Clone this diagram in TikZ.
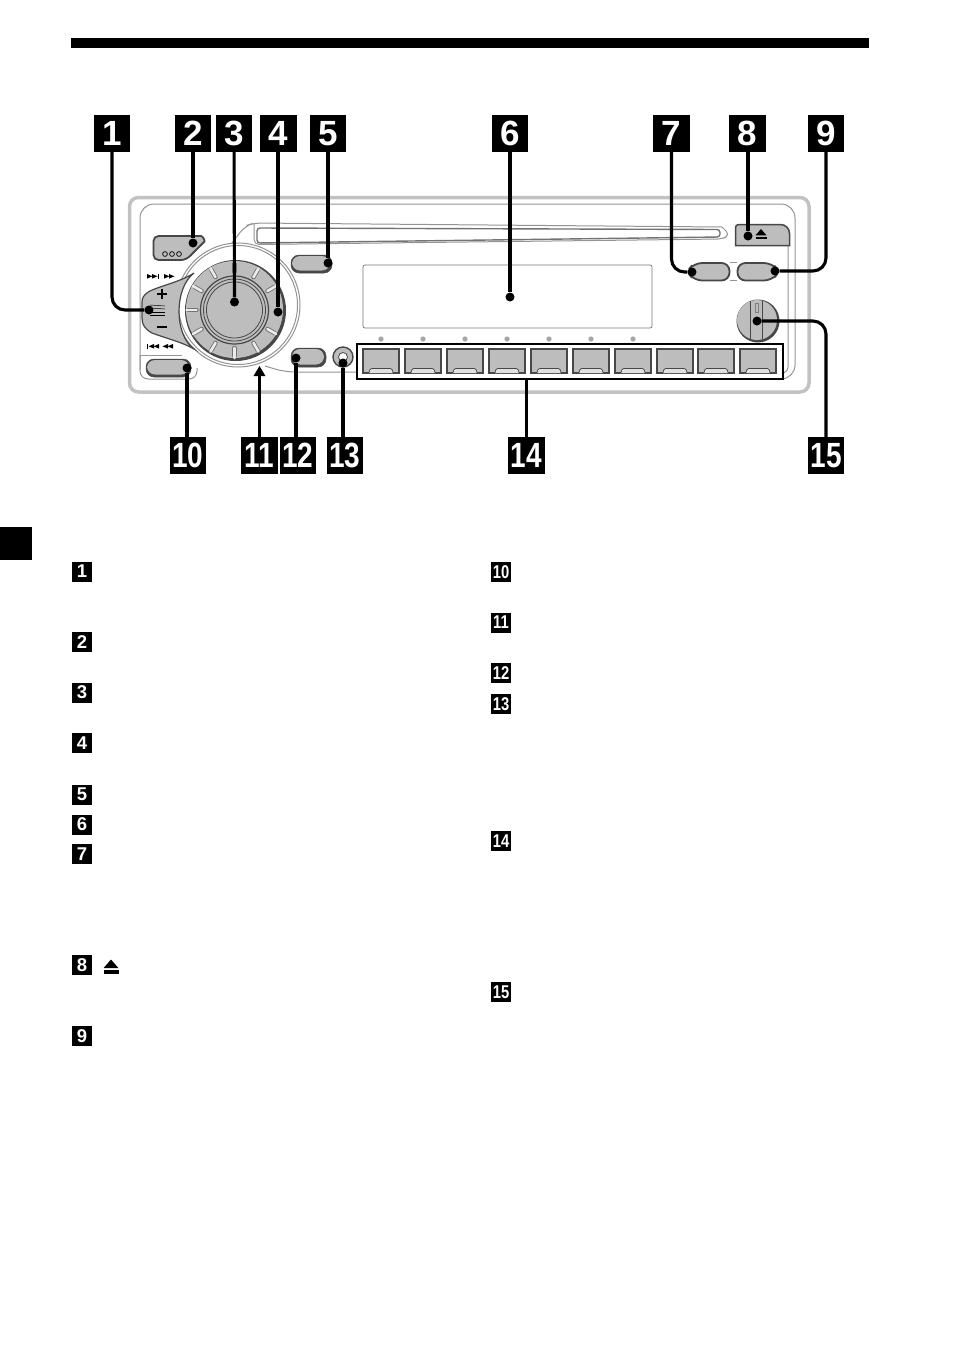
\documentclass[tikz,border=0pt]{standalone}
\usepackage{fontspec}
\setmainfont{Liberation Sans}
\usetikzlibrary{calc}
\definecolor{keygray}{gray}{0.74}
\definecolor{keydark}{gray}{0.28}
\tikzset{
	bigtag/.style={fill=black, text=white, inner sep=0pt, minimum size=36.5pt, font=\fontsize{35}{35}\selectfont\bfseries},
	smalltag/.style={fill=black, text=white, inner sep=0pt, minimum size=20pt, font=\fontsize{18.5}{19}\selectfont\bfseries},
	calldot/.style={circle, fill=black, inner sep=0pt, minimum size=9pt},
	callline/.style={line width=3.1pt, color=black, rounded corners=13pt},
	thinline/.style={line width=1pt, color=black!42},
	ledmark/.style={fill=black!35, draw=none},
}
\def\keycap(#1,#2)(#3,#4)(#5){\draw[fill=keydark, draw=keydark, line width=0.5pt, rounded corners=#5pt] (#1,#2) rectangle (#3,#4); \draw[fill=keygray, draw=none, rounded corners=#5pt] ($(#1,#2)+(1,1)$) rectangle ($(#3,#4)+(-2,-2.5)$);}
\def\presetkey(#1){\draw[fill=keygray, draw=keydark, line width=1.5pt] (#1,349) rectangle ++(36,24); \draw[fill=black!12, draw=keydark, line width=0.7pt, rounded corners=1.5pt] ($(#1,373)+(6,0)$) -- ++(1,-4.5) -- ++(22,0) -- ++(1,4.5);}
\def\knobtick(#1){\draw[line width=4.4pt, color=black!55, line cap=round] ([shift={(#1:38)}]knobc) -- ([shift={(#1:46)}]knobc); \draw[line width=2.6pt, color=black!8, line cap=round] ([shift={(#1:38)}]knobc) -- ([shift={(#1:48)}]knobc);}
\def\ejecticon(#1,#2)(#3){\fill (#1,#2) -- ++(#3,#3*1.15) -- ++(-#3*2,0) -- cycle; \fill ($(#1,#2)+(-#3,#3*1.45)$) rectangle ++(#3*2,#3*0.45);}
\def\trifwd(#1,#2){\fill (#1,#2) -- ++(5.5,2.3) -- ++(-5.5,2.3) -- cycle;}
\def\tribck(#1,#2){\fill (#1,#2) -- ++(-5.5,2.3) -- ++(5.5,2.3) -- cycle;}

\begin{document}
\begin{tikzpicture}[x=1pt, y=-1pt]
		%%%%% START %%%%%
		\useasboundingbox (0, 0) rectangle (954, 1352);

		\fill[black] (71, 38) rectangle (869, 48);
		\fill[black] (0, 527) rectangle (32, 560);

		%%%%% faceplate
		\draw[line width=3.5pt, color=black!24, rounded corners=9pt] (129.5, 197.5) rectangle (809, 392);
		\draw[thinline, rounded corners=14pt] (140, 370) -- (140, 204) -- (795, 204) -- (795, 379) -- (770, 379);
		\draw[thinline, rounded corners=8pt] (140, 355) -- (140, 379) -- (197, 379) -- (197, 368);
		\draw[thinline] (140, 355) -- (182, 355);
		\draw[thinline, rounded corners=6pt] (788, 246) -- (788, 373) -- (783, 373);
		\draw[thinline, rounded corners=10pt] (265, 366) -- (285, 372) -- (357, 372);

		%%%%% disc slot
		\draw[thinline, rounded corners=8pt] (232, 243) -- (245, 226) -- (254, 223) -- (722, 227);
		\draw[line width=1.4pt, color=black!55, rounded corners=3pt] (257, 228) -- (720, 229.5) -- (720, 237) -- (257, 243) -- cycle;
		\draw[thinline, rounded corners=5pt] (254, 223) -- (254, 244.5) -- (722, 239) -- (730, 235) -- (722, 227);

		%%%%% display and lamps
		\draw[line width=0.7pt, color=black!55, rounded corners=2pt] (363, 265) rectangle (652, 328);
		\fill[ledmark] (381, 339) circle (2.6);
		\fill[ledmark] (423, 339) circle (2.6);
		\fill[ledmark] (465, 339) circle (2.6);
		\fill[ledmark] (507, 339) circle (2.6);
		\fill[ledmark] (549, 339) circle (2.6);
		\fill[ledmark] (591, 339) circle (2.6);
		\fill[ledmark] (633, 339) circle (2.6);

		%%%%% preset keys
		\presetkey(363);
		\presetkey(405);
		\presetkey(447);
		\presetkey(489);
		\presetkey(531);
		\presetkey(573);
		\presetkey(615);
		\presetkey(657);
		\presetkey(698);
		\presetkey(740);
		\draw[line width=2.4pt] (357, 344) rectangle (783, 379);

		%%%%% left keys
		\draw[fill=keygray, draw=keydark, line width=1.8pt, rounded corners=5pt] (153.5, 260) -- (153.5, 236) -- (196, 236) .. controls (203, 236) and (205, 241) .. (201, 245) -- (186, 260) -- cycle;
		\draw[line width=0.7pt] (165, 254) circle (2.4);
		\draw[line width=0.7pt] (172, 254) circle (2.4);
		\draw[line width=0.7pt] (179, 254) circle (2.4);
		\keycap(291, 255)(332, 273)(8);
		\keycap(146, 359)(191, 377)(8);
		\keycap(291, 348)(326, 367)(8);
		\draw[fill=keygray, draw=keydark, line width=1.4pt] (343, 357) circle (10);
		\draw[fill=white, draw=keydark, line width=0.8pt] (343, 357) circle (4.5);

		%%%%% seek rocker
		\draw[thinline] (238, 305) circle (62);
		\draw[thinline] (238, 305) circle (59.5);
		\fill[white] (238, 305) circle (58);
		\draw[fill=keygray, draw=keydark, line width=1.2pt] (194, 273) .. controls (180, 282) and (160, 286) .. (150, 291) .. controls (143, 295) and (142, 298) .. (142, 303) -- (142, 318) .. controls (142, 325) and (145, 329) .. (152, 333) .. controls (165, 338) and (182, 342) .. (194, 349) .. controls (174, 335) and (174, 288) .. (194, 273) -- cycle;
		\draw[line width=1.2pt] (157, 294) -- (167, 294);
		\draw[line width=1.2pt] (162, 289) -- (162, 299);
		\draw[line width=1.4pt] (157, 327) -- (167, 327);
		\draw[line width=0.5pt] (150, 305) -- (165, 306);
		\draw[line width=0.5pt] (150, 308) -- (165, 309);
		\draw[line width=0.5pt] (150, 312) -- (165, 312);
		\draw[line width=0.5pt] (150, 315) -- (165, 315);
		\trifwd(147, 274);
		\trifwd(152, 274);
		\fill (157.5, 274) rectangle ++(1.2, 4.6);
		\trifwd(164, 274);
		\trifwd(169, 274);
		\fill (147, 344) rectangle ++(1.2, 4.6);
		\tribck(154, 344);
		\tribck(159, 344);
		\tribck(168, 344);
		\tribck(173, 344);

		%%%%% main dial
		\coordinate (knobc) at (234.5, 310);
		\fill[keydark] (235.5, 310.5) circle (50.5);
		\fill[keygray] (234.5, 309.5) circle (48.5);
		\knobtick(30);
		\knobtick(60);
		\knobtick(90);
		\knobtick(120);
		\knobtick(150);
		\knobtick(180);
		\knobtick(210);
		\knobtick(240);
		\knobtick(270);
		\knobtick(300);
		\knobtick(330);
		\draw[fill=keygray, draw=keydark, line width=1.2pt] (knobc) circle (34);
		\draw[line width=0.8pt, color=keydark] (knobc) circle (31);
		\draw[fill=keygray, draw=keydark, line width=0.8pt] (knobc) circle (28);

		%%%%% right keys
		\draw[fill=keygray, draw=keydark, line width=1.5pt] [rounded corners=3pt] (735.5, 245.5) -- (735.5, 224.5) [rounded corners=9pt] -- (789.5, 224.5) [sharp corners] -- (789.5, 245.5) -- cycle;
		\ejecticon(761, 229)(5.5);
		\draw[thinline] (730, 262.5) -- (737, 262.5);
		\draw[thinline] (730, 280.5) -- (737, 280.5);
		\draw[fill=keygray, draw=keydark, line width=1.8pt, rounded corners=8pt] (729.5, 263) -- (694, 263) -- (687, 271.5) -- (694, 280.5) -- (729.5, 280.5) -- cycle;
		\draw[fill=keygray, draw=keydark, line width=1.8pt, rounded corners=8pt] (737.5, 263) -- (772, 263) -- (779.5, 271.5) -- (772, 280.5) -- (737.5, 280.5) -- cycle;
		\fill[keydark] (758, 321) circle (21.5);
		\fill[keygray] (757, 320) circle (20);
		\draw[line width=0.9pt, color=keydark] (750.5, 301) -- (750.5, 340);
		\draw[line width=0.9pt, color=keydark] (762.5, 301) -- (762.5, 340);
		\draw[line width=0.6pt, color=black!50] (755.5, 303) rectangle (758.5, 312);

		%%%%% tags on top
		\node[bigtag] (tag1) at (112, 133.5) {1};
		\node[bigtag] (tag2) at (193, 133.5) {2};
		\node[bigtag] (tag3) at (234, 133.5) {3};
		\node[bigtag] (tag4) at (278.5, 133.5) {4};
		\node[bigtag] (tag5) at (328, 133.5) {5};
		\node[bigtag] (tag6) at (510, 133.5) {6};
		\node[bigtag] (tag7) at (671.5, 133.5) {7};
		\node[bigtag] (tag8) at (747.5, 133.5) {8};
		\node[bigtag] (tag9) at (826, 133.5) {9};

		%%%%% tags below
		\node[bigtag] (tag10) at (188, 455.5) {\scalebox{0.8}[1]{10}};
		\node[bigtag] (tag11) at (259.5, 455.5) {\scalebox{0.8}[1]{11}};
		\node[bigtag] (tag12) at (298, 455.5) {\scalebox{0.8}[1]{12}};
		\node[bigtag] (tag13) at (345, 455.5) {\scalebox{0.8}[1]{13}};
		\node[bigtag] (tag14) at (526.5, 455.5) {\scalebox{0.8}[1]{14}};
		\node[bigtag] (tag15) at (826, 455.5) {\scalebox{0.8}[1]{15}};

		%%%%% ends of the lines
		\node[calldot] (dot1) at (149, 310) {};
		\node[calldot] (dot2) at (193, 243) {};
		\node[calldot] (dot3) at (234.5, 302) {};
		\node[calldot] (dot4) at (278, 312) {};
		\node[calldot] (dot5) at (328, 263) {};
		\node[calldot] (dot6) at (510, 297) {};
		\node[calldot] (dot7) at (692, 272) {};
		\node[calldot] (dot8) at (748, 236) {};
		\node[calldot] (dot9) at (775, 271) {};
		\node[calldot] (dot10) at (187, 368) {};
		\node[calldot] (dot12) at (296, 358) {};
		\node[calldot] (dot13) at (343, 363) {};
		\node[calldot] (dot15) at (757, 321) {};
		\coordinate (end11) at (259.5, 375);
		\coordinate (end14) at (526.5, 379);

		\draw[callline] (tag1) |- (dot1);
		\draw[callline] (tag2) -- (dot2);
		\draw[callline] (tag3) -- (dot3);
		\draw[callline] (tag4.south -| dot4) -- (dot4);
		\draw[callline] (tag5) -- (dot5);
		\draw[callline] (tag6) -- (dot6);
		\draw[callline] (tag7) |- (dot7);
		\draw[callline] (tag8.south -| dot8) -- (dot8);
		\draw[callline] (tag9) |- (dot9);
		\draw[callline] (tag10.north -| dot10) -- (dot10);
		\draw[callline] (tag11) -- (end11);
		\draw[callline] (tag12.north -| dot12) -- (dot12);
		\draw[callline] (tag13.north -| dot13) -- (dot13);
		\draw[callline] (tag14) -- (end14);
		\draw[callline] (tag15) |- (dot15);
		\fill (259.5, 366) -- (265.5, 376) -- (253.5, 376) -- cycle;

		%%%%% left column
		\node[smalltag] (item1) at (82, 571.5) {1};
		\node[smalltag] (item2) at (82, 642) {2};
		\node[smalltag] (item3) at (82, 692.5) {3};
		\node[smalltag] (item4) at (82, 743) {4};
		\node[smalltag] (item5) at (82, 794.5) {5};
		\node[smalltag] (item6) at (82, 824.5) {6};
		\node[smalltag] (item7) at (82, 854) {7};
		\node[smalltag] (item8) at (82, 965) {8};
		\node[smalltag] (item9) at (82, 1036) {9};
		\ejecticon(111, 959.5)(7.5);

		%%%%% right column
		\node[smalltag] (item10) at (501, 572) {\scalebox{0.8}[1]{10}};
		\node[smalltag] (item11) at (501, 622.5) {\scalebox{0.8}[1]{11}};
		\node[smalltag] (item12) at (501, 673) {\scalebox{0.8}[1]{12}};
		\node[smalltag] (item13) at (501, 704) {\scalebox{0.8}[1]{13}};
		\node[smalltag] (item14) at (501, 841) {\scalebox{0.8}[1]{14}};
		\node[smalltag] (item15) at (501, 992) {\scalebox{0.8}[1]{15}};

		%%%%% END %%%%%
	\end{tikzpicture}
\end{document}
